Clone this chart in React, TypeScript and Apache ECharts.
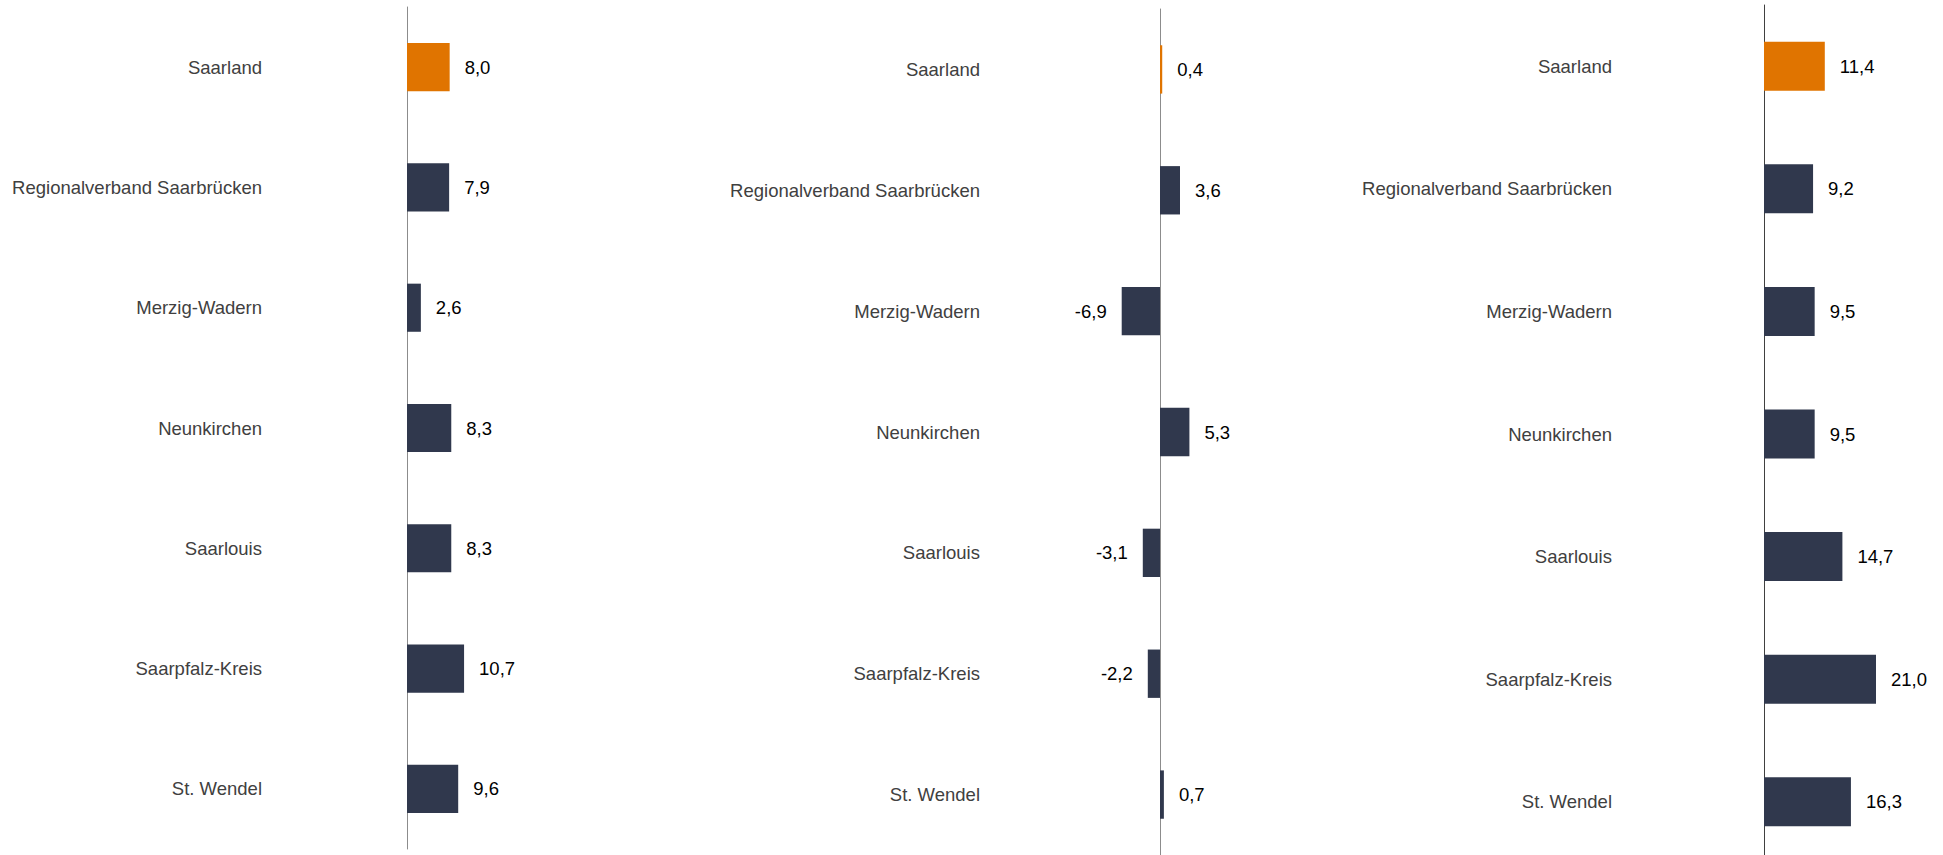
import React, { useEffect, useRef } from "react";
import * as echarts from "echarts";

const categories = [
  "Saarland",
  "Regionalverband Saarbrücken",
  "Merzig-Wadern",
  "Neunkirchen",
  "Saarlouis",
  "Saarpfalz-Kreis",
  "St. Wendel",
];

const panel1Values = [8.0, 7.9, 2.6, 8.3, 8.3, 10.7, 9.6];
const panel2Values = [0.4, 3.6, -6.9, 5.3, -3.1, -2.2, 0.7];
const panel3Values = [11.4, 9.2, 9.5, 9.5, 14.7, 21.0, 16.3];

const ORANGE = "#E07400";
const NAVY = "#30384D";
const FONT = "'Liberation Sans', Arial, sans-serif";

const fmt = (v: number) => v.toFixed(1).replace(".", ",");

function buildData(values: number[]) {
  return values.map((v, i) => ({
    value: v,
    itemStyle: { color: i === 0 ? ORANGE : NAVY },
    label: { position: v < 0 ? "left" : "right" },
  }));
}

export default function App() {
  const ref = useRef<HTMLDivElement>(null);

  useEffect(() => {
    if (!ref.current) return;
    const chart = echarts.init(ref.current, undefined, { renderer: "svg" });

    const panels = [
      { values: panel1Values, left: 407, width: 160, top: 7, height: 842, min: 0, max: 30, margin: 145, axisColor: "#8C8C8C" },
      { values: panel2Values, left: 1049, width: 222, top: 9, height: 846, min: -20, max: 20, margin: 69, axisColor: "#8C8C8C" },
      { values: panel3Values, left: 1764, width: 160, top: 5, height: 858, min: 0, max: 30, margin: 152, axisColor: "#404040" },
    ];

    chart.setOption({
      animation: false,
      backgroundColor: "#ffffff",
      grid: panels.map((p) => ({
        left: p.left,
        top: p.top,
        width: p.width,
        height: p.height,
        containLabel: false,
        outerBoundsMode: "none",
      })),
      xAxis: panels.map((p, i) => ({
        type: "value",
        gridIndex: i,
        min: p.min,
        max: p.max,
        show: false,
      })),
      yAxis: panels.map((p, i) => ({
        type: "category",
        gridIndex: i,
        data: categories,
        inverse: true,
        axisLine: { show: true, onZero: true, lineStyle: { color: p.axisColor, width: 1 } },
        axisTick: { show: false },
        splitLine: { show: false },
        axisLabel: {
          margin: p.margin,
          color: "#404040",
          fontSize: 18.5,
          fontFamily: FONT,
        },
      })),
      series: panels.map((p, i) => ({
        type: "bar",
        xAxisIndex: i,
        yAxisIndex: i,
        barWidth: "40%",
        data: buildData(p.values),
        label: {
          show: true,
          distance: 15,
          color: "#000000",
          fontSize: 18.5,
          fontFamily: FONT,
          formatter: (params: any) => fmt(params.value),
        },
      })),
    });

    return () => chart.dispose();
  }, []);

  return (
    <div
      ref={ref}
      style={{ position: "absolute", left: 0, top: 0, width: 1943, height: 855 }}
    />
  );
}
